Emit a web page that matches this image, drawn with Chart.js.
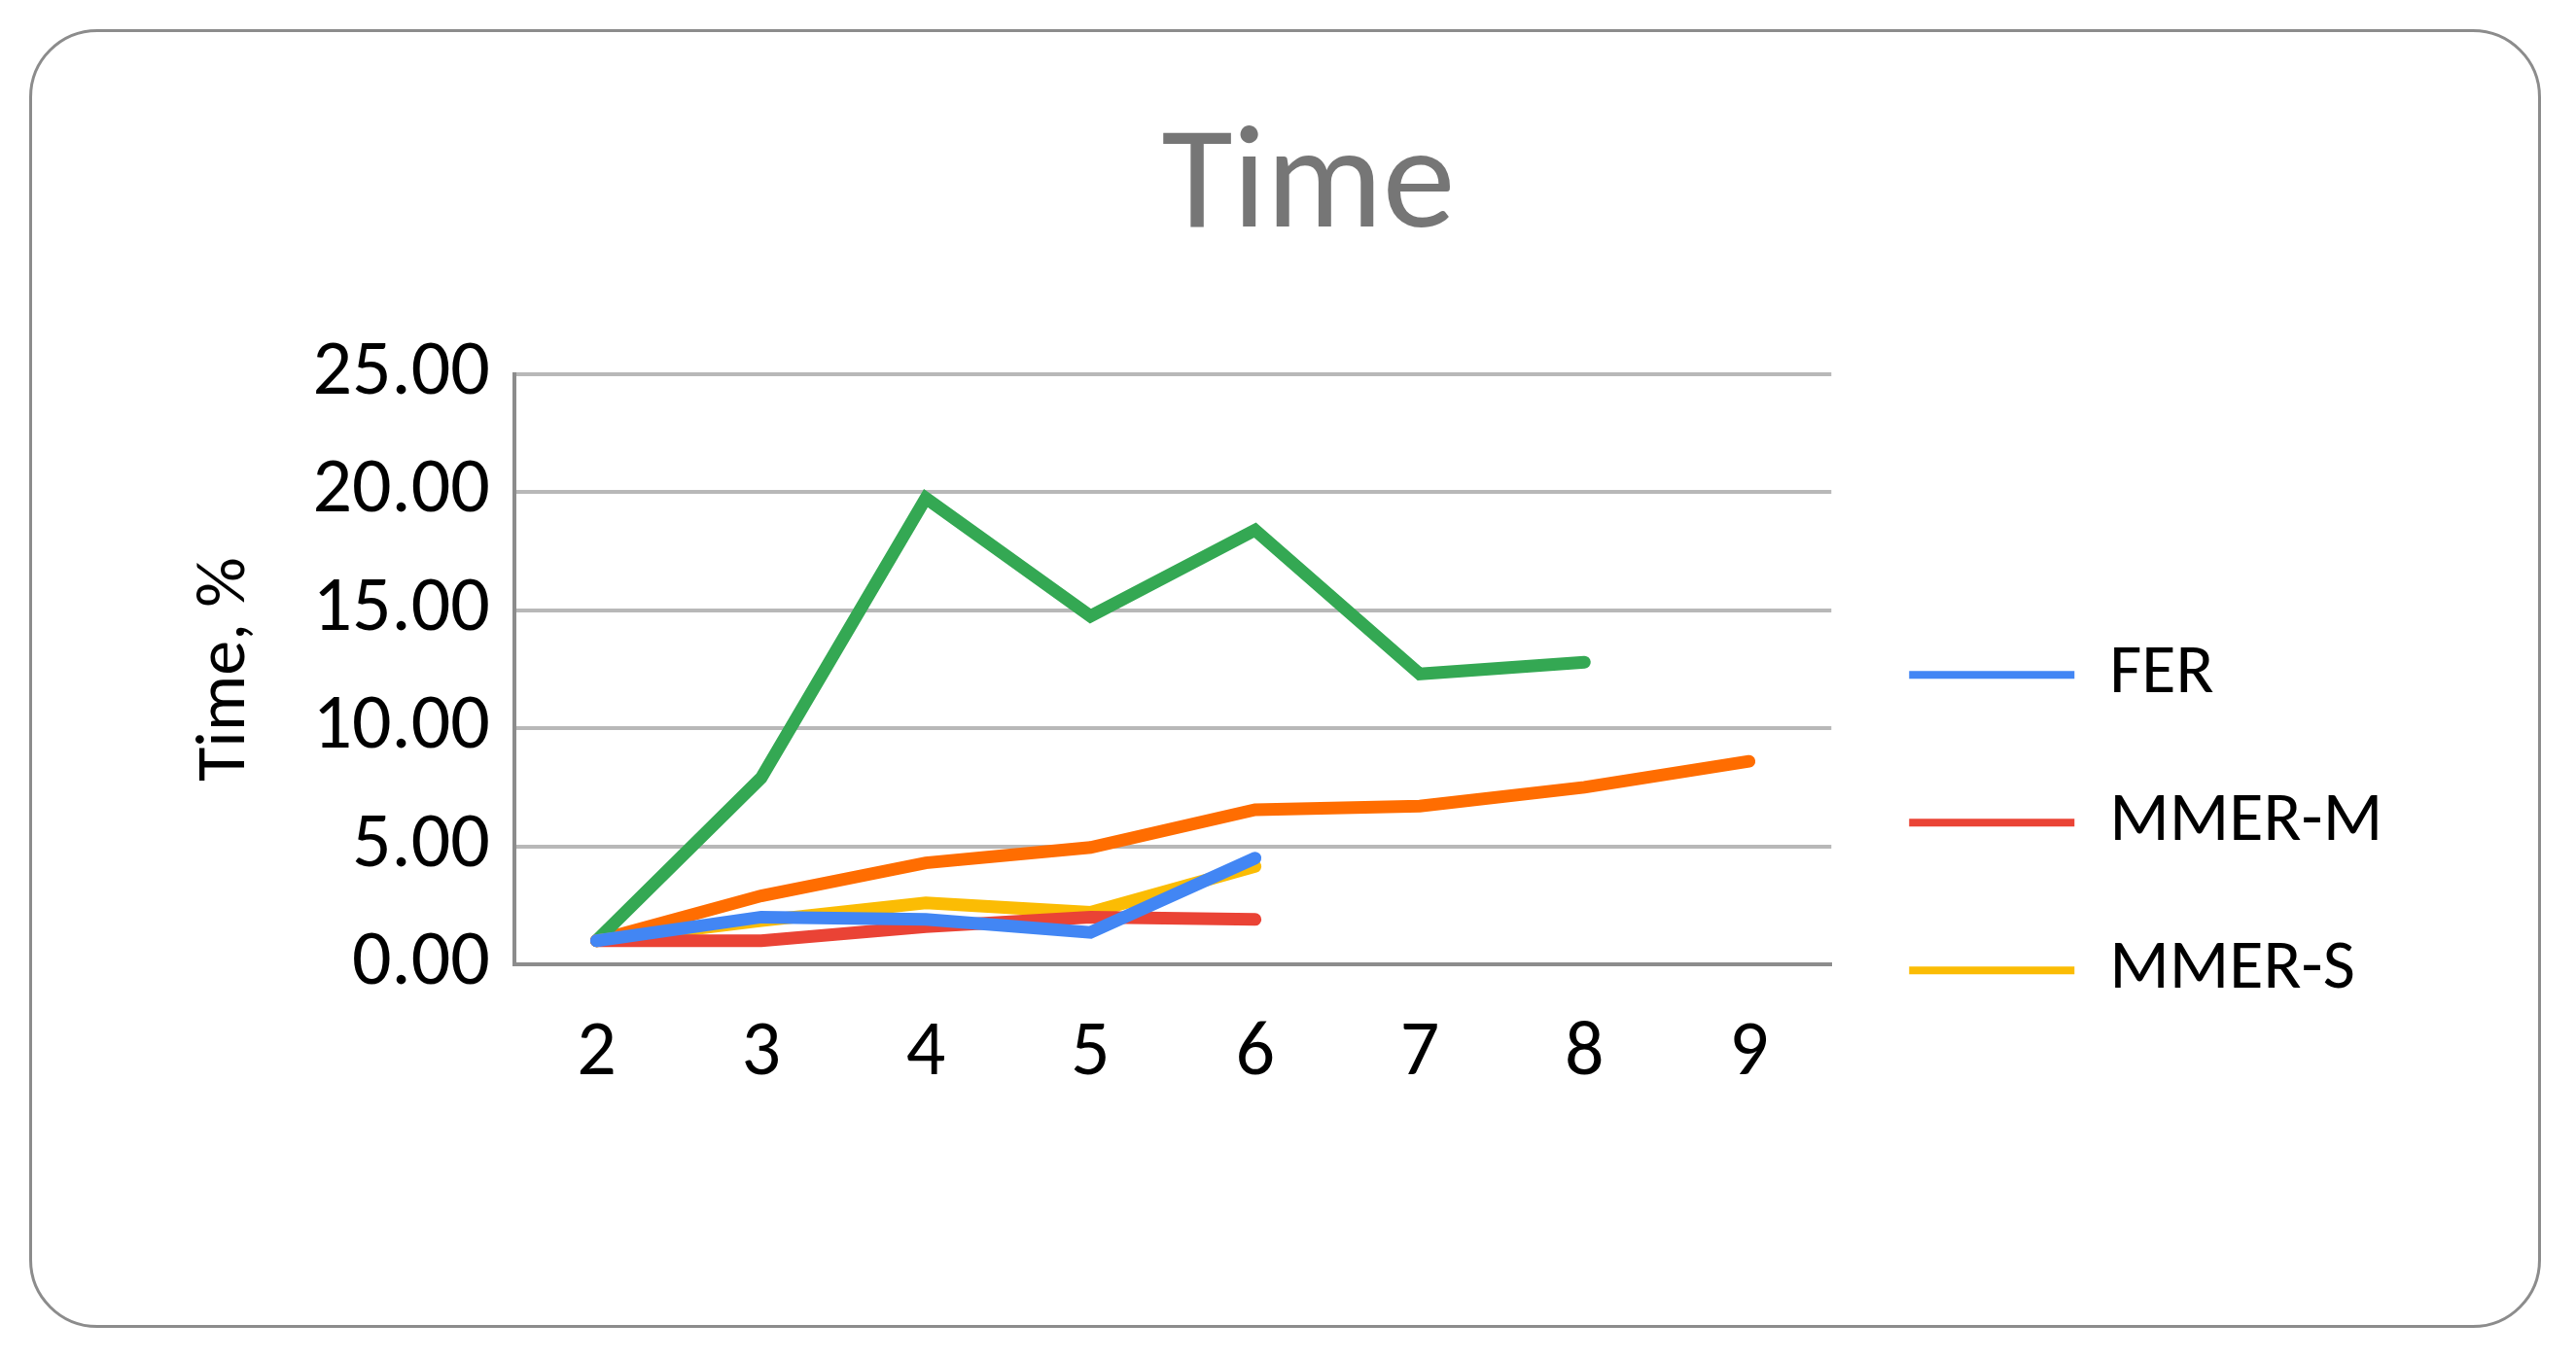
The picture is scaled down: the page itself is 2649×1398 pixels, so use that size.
<!DOCTYPE html>
<html>
<head>
<meta charset="utf-8">
<script src="https://cdn.jsdelivr.net/npm/chart.js@4.4.1/dist/chart.umd.min.js"></script>
<style>
  html, body { margin: 0; padding: 0; background: #fff; }
  #frame {
    position: absolute; left: 30px; top: 30px; width: 2583px; height: 1336px;
    border: 3px solid #8c8c8c; border-radius: 70px; box-sizing: border-box;
  }
  #wrap { position: absolute; left: 0; top: 0; width: 2649px; height: 1398px; }
</style>
</head>
<body>
<div id="frame"></div>
<div id="wrap"><canvas id="chart"></canvas></div>
<script>
const categories = ['2', '3', '4', '5', '6', '7', '8', '9'];
const fer   = [1.0, 2.0, 1.9, 1.35, 4.5, null, null, null];
const mmerM = [1.0, 1.0, 1.6, 2.0, 1.9, null, null, null];
const mmerS = [1.0, 1.85, 2.6, 2.2, 4.15, null, null, null];
const ser   = [1.0, 7.9, 19.75, 14.75, 18.4, 12.3, 12.8, null];
const ter   = [1.0, 2.9, 4.3, 4.95, 6.55, 6.7, 7.5, 8.6];

const FONT = 'Calibri, Carlito, "Liberation Sans", sans-serif';

function series(label, data, color) {
    return {
        label, data,
        borderColor: color, backgroundColor: color,
        borderWidth: 13, pointRadius: 0, tension: 0,
        borderCapStyle: 'round', borderJoinStyle: 'miter', spanGaps: false
    };
}

// widen the legend box so the plot ends further left than the legend lines
const legendGap = {
    id: 'legendGap',
    beforeInit(chart) {
        const fit = chart.legend.fit;
        chart.legend.fit = function () {
            fit.bind(chart.legend)();
            this.width += 42;
        };
    }
};

new Chart(document.getElementById('chart'), {
    type: 'line',
    data: {
        labels: categories,
        datasets: [
            series('FER', fer, '#4286f4'),
            series('MMER-M', mmerM, '#ea4335'),
            series('MMER-S', mmerS, '#fbbc04'),
            series('SER', ser, '#34a853'),
            series('TER', ter, '#ff6d01')
        ]
    },
    plugins: [legendGap],
    options: {
        responsive: true,
        maintainAspectRatio: false,
        animation: false,
        layout: { padding: { left: 186, right: 144, top: 105, bottom: 220 } },
        plugins: {
            title: {
                display: true, text: 'Time', color: '#767676',
                font: { family: FONT, size: 150, weight: 'normal' }, padding: { top: 0, bottom: 100 }
            },
            legend: {
                position: 'right',
                title: { display: true, text: ' ', font: { size: 68 }, padding: { top: 164, bottom: 164 } },
                labels: {
                    color: '#000', font: { family: FONT, size: 72 },
                    boxWidth: 170, boxHeight: 8, padding: 80,
                    generateLabels: chart => chart.data.datasets.map((d, i) => ({
                        text: d.label, fillStyle: d.borderColor, strokeStyle: d.borderColor,
                        lineWidth: 0, datasetIndex: i, fontColor: '#000'
                    }))
                }
            },
            tooltip: { enabled: false }
        },
        scales: {
            x: {
                offset: true,
                grid: { display: false, drawTicks: false },
                border: { color: '#8c8c8c', width: 4 },
                ticks: { color: '#000', font: { family: FONT, size: 80 }, padding: 45 }
            },
            y: {
                min: 0, max: 25,
                grid: { color: '#b8b8b8', lineWidth: 4, drawTicks: false },
                border: { color: '#8c8c8c', width: 4 },
                ticks: {
                    stepSize: 5, color: '#000', font: { family: FONT, size: 80 }, padding: 25,
                    callback: v => v.toFixed(2)
                },
                title: {
                    display: true, text: 'Time, %', color: '#000',
                    font: { family: FONT, size: 72 }, padding: { bottom: 20 }
                }
            }
        }
    }
});
</script>
</body>
</html>
